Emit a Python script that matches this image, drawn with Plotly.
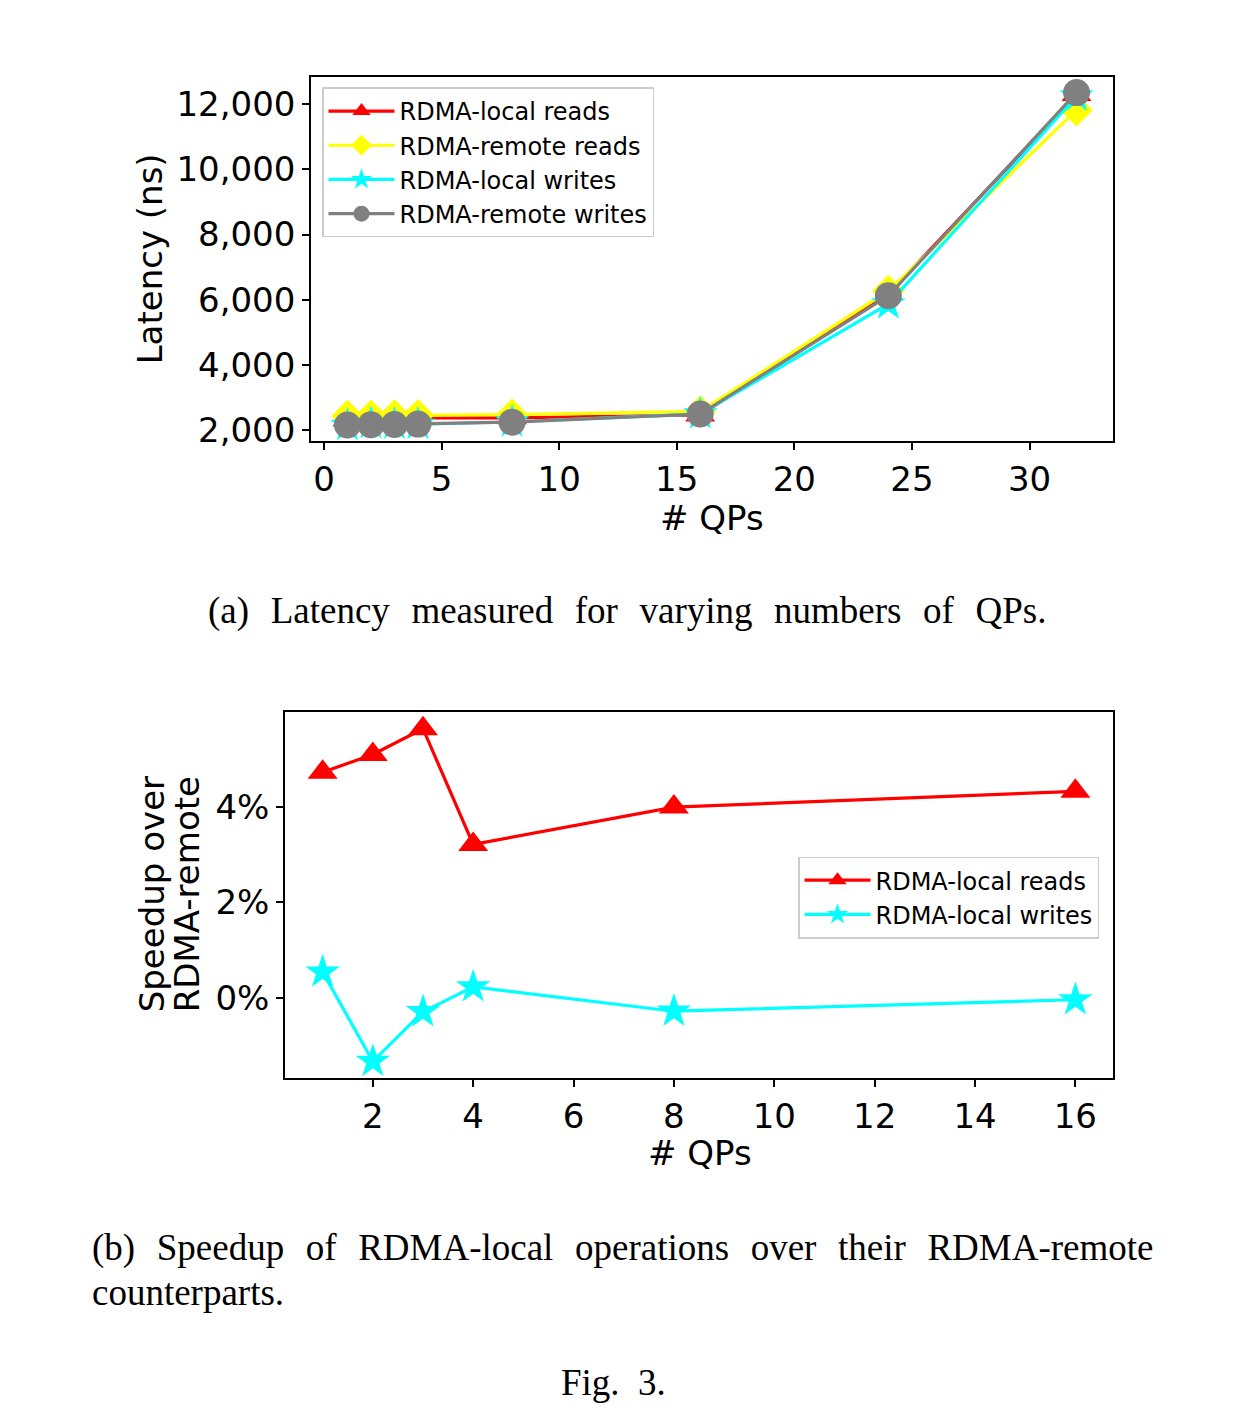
import plotly.graph_objects as go

# ---------------- data ----------------
qps_top = [1, 2, 3, 4, 8, 16, 24, 32]
local_reads_ns = [2315, 2316, 2307, 2371, 2371, 2459, 6180, 12300]
remote_reads_ns = [2430, 2440, 2445, 2450, 2470, 2570, 6270, 11820]
local_writes_ns = [2138, 2189, 2176, 2175, 2246, 2491, 5870, 12250]
remote_writes_ns = [2150, 2160, 2170, 2180, 2240, 2490, 6120, 12360]

qps_bottom = [1, 2, 3, 4, 8, 16]
speedup_reads_pct = [4.72, 5.09, 5.63, 3.21, 3.99, 4.32]
speedup_writes_pct = [0.54, -1.33, -0.29, 0.23, -0.28, -0.04]

top_yticks = [2000, 4000, 6000, 8000, 10000, 12000]
top_xticks = [0, 5, 10, 15, 20, 25, 30]
bot_yticks = [0, 2, 4]
bot_xticks = [2, 4, 6, 8, 10, 12, 14, 16]

W, H = 1260, 1424
FONT = "DejaVu Sans"
SERIF = "Liberation Serif"
FS = 34  # tick / axis title font size

RED, YEL, CYA, GRY = "#ff0000", "#ffff00", "#00ffff", "#808080"
LW = 3.2

fig = go.Figure()

def add(x, y, name, color, symbol, size, xa, ya, legend):
    fig.add_trace(go.Scatter(
        x=x, y=y, name=name, mode="lines+markers",
        line=dict(color=color, width=LW),
        marker=dict(symbol=symbol, size=size, color=color, line=dict(width=0)),
        xaxis=xa, yaxis=ya, legend=legend))

add(qps_top, local_reads_ns, "RDMA-local reads", RED, "triangle-up", 26, "x", "y", "legend")
add(qps_top, remote_reads_ns, "RDMA-remote reads", YEL, "diamond", 25, "x", "y", "legend")
add(qps_top, local_writes_ns, "RDMA-local writes", CYA, "star", 26, "x", "y", "legend")
add(qps_top, remote_writes_ns, "RDMA-remote writes", GRY, "circle", 27, "x", "y", "legend")

add(qps_bottom, speedup_reads_pct, "RDMA-local reads", RED, "triangle-up", 26, "x2", "y2", "legend2")
add(qps_bottom, speedup_writes_pct, "RDMA-local writes", CYA, "star", 26, "x2", "y2", "legend2")

axis_common = dict(
    showgrid=False, zeroline=False, showline=True, linecolor="black", linewidth=1.6,
    mirror=True, ticks="outside", ticklen=7, tickwidth=1.5, tickcolor="black",
    tickfont=dict(family=FONT, size=FS, color="black"),
)

legend_common = dict(
    xanchor="left", yanchor="top", bgcolor="rgba(255,255,255,0.8)",
    bordercolor="#cccccc", borderwidth=1.5, itemwidth=66,
    font=dict(family=FONT, size=24, color="black"), tracegroupgap=0,
)

fig.update_layout(
    width=W, height=H,
    margin=dict(l=0, r=0, t=0, b=0),
    paper_bgcolor="white", plot_bgcolor="white",
    font=dict(family=FONT, color="black"),
    xaxis=dict(domain=[311 / W, 1113 / W], range=[-0.55, 33.55],
               tickvals=top_xticks, anchor="y", **axis_common),
    yaxis=dict(domain=[(H - 444) / H, (H - 77) / H], range=[1655, 12854],
               tickvals=top_yticks, tickformat=",d", anchor="x", **axis_common),
    xaxis2=dict(domain=[285 / W, 1113 / W], range=[0.25, 16.75],
                tickvals=bot_xticks, anchor="y2", **axis_common),
    yaxis2=dict(domain=[(H - 1085) / H, (H - 717) / H], range=[-1.68, 5.97],
                tickvals=bot_yticks, ticktext=[f"{v}%" for v in bot_yticks],
                anchor="x2", **axis_common),
    legend=dict(x=322 / W, y=1 - 88 / H, **legend_common),
    legend2=dict(x=798 / W, y=1 - 862 / H, **legend_common),
)

def ann(text, x, y, size, family=FONT, angle=0, xanchor="center", align="center"):
    fig.add_annotation(text=text, x=x / W, y=1 - y / H, xref="paper", yref="paper",
                       showarrow=False, textangle=angle, xanchor=xanchor, yanchor="middle",
                       align=align, font=dict(family=family, size=size, color="black"))

ann("Latency (ns)", 150, 261, FS, angle=-90)
ann("# QPs", 712, 521, FS)
ann("Speedup over", 152, 900, FS, angle=-90)
ann("RDMA-remote", 187, 900, FS, angle=-90)
ann("# QPs", 700, 1160, FS)

SP = "\u2002\u200a"  # wide TeX-like interword space

def wide(s):
    return s.replace(" ", SP)

ann(wide("(a) Latency measured for varying numbers of QPs."), 627, 615, 37, family=SERIF)
ann(wide("(b) Speedup of RDMA-local operations over their RDMA-remote"), 90, 1256, 37,
    family=SERIF, xanchor="left", align="left")
ann("counterparts.", 90, 1301, 37, family=SERIF, xanchor="left", align="left")
ann("Fig.\u20023.", 613, 1391, 37, family=SERIF)

fig.write_html("out.html", config={"displayModeBar": False})

# remove the browser's default page margin so the figure sits at (0, 0)
with open("out.html", "r", encoding="utf-8") as f:
    html = f.read()
html = html.replace("<head>", "<head><style>html,body{margin:0;padding:0;}</style>", 1)
with open("out.html", "w", encoding="utf-8") as f:
    f.write(html)
